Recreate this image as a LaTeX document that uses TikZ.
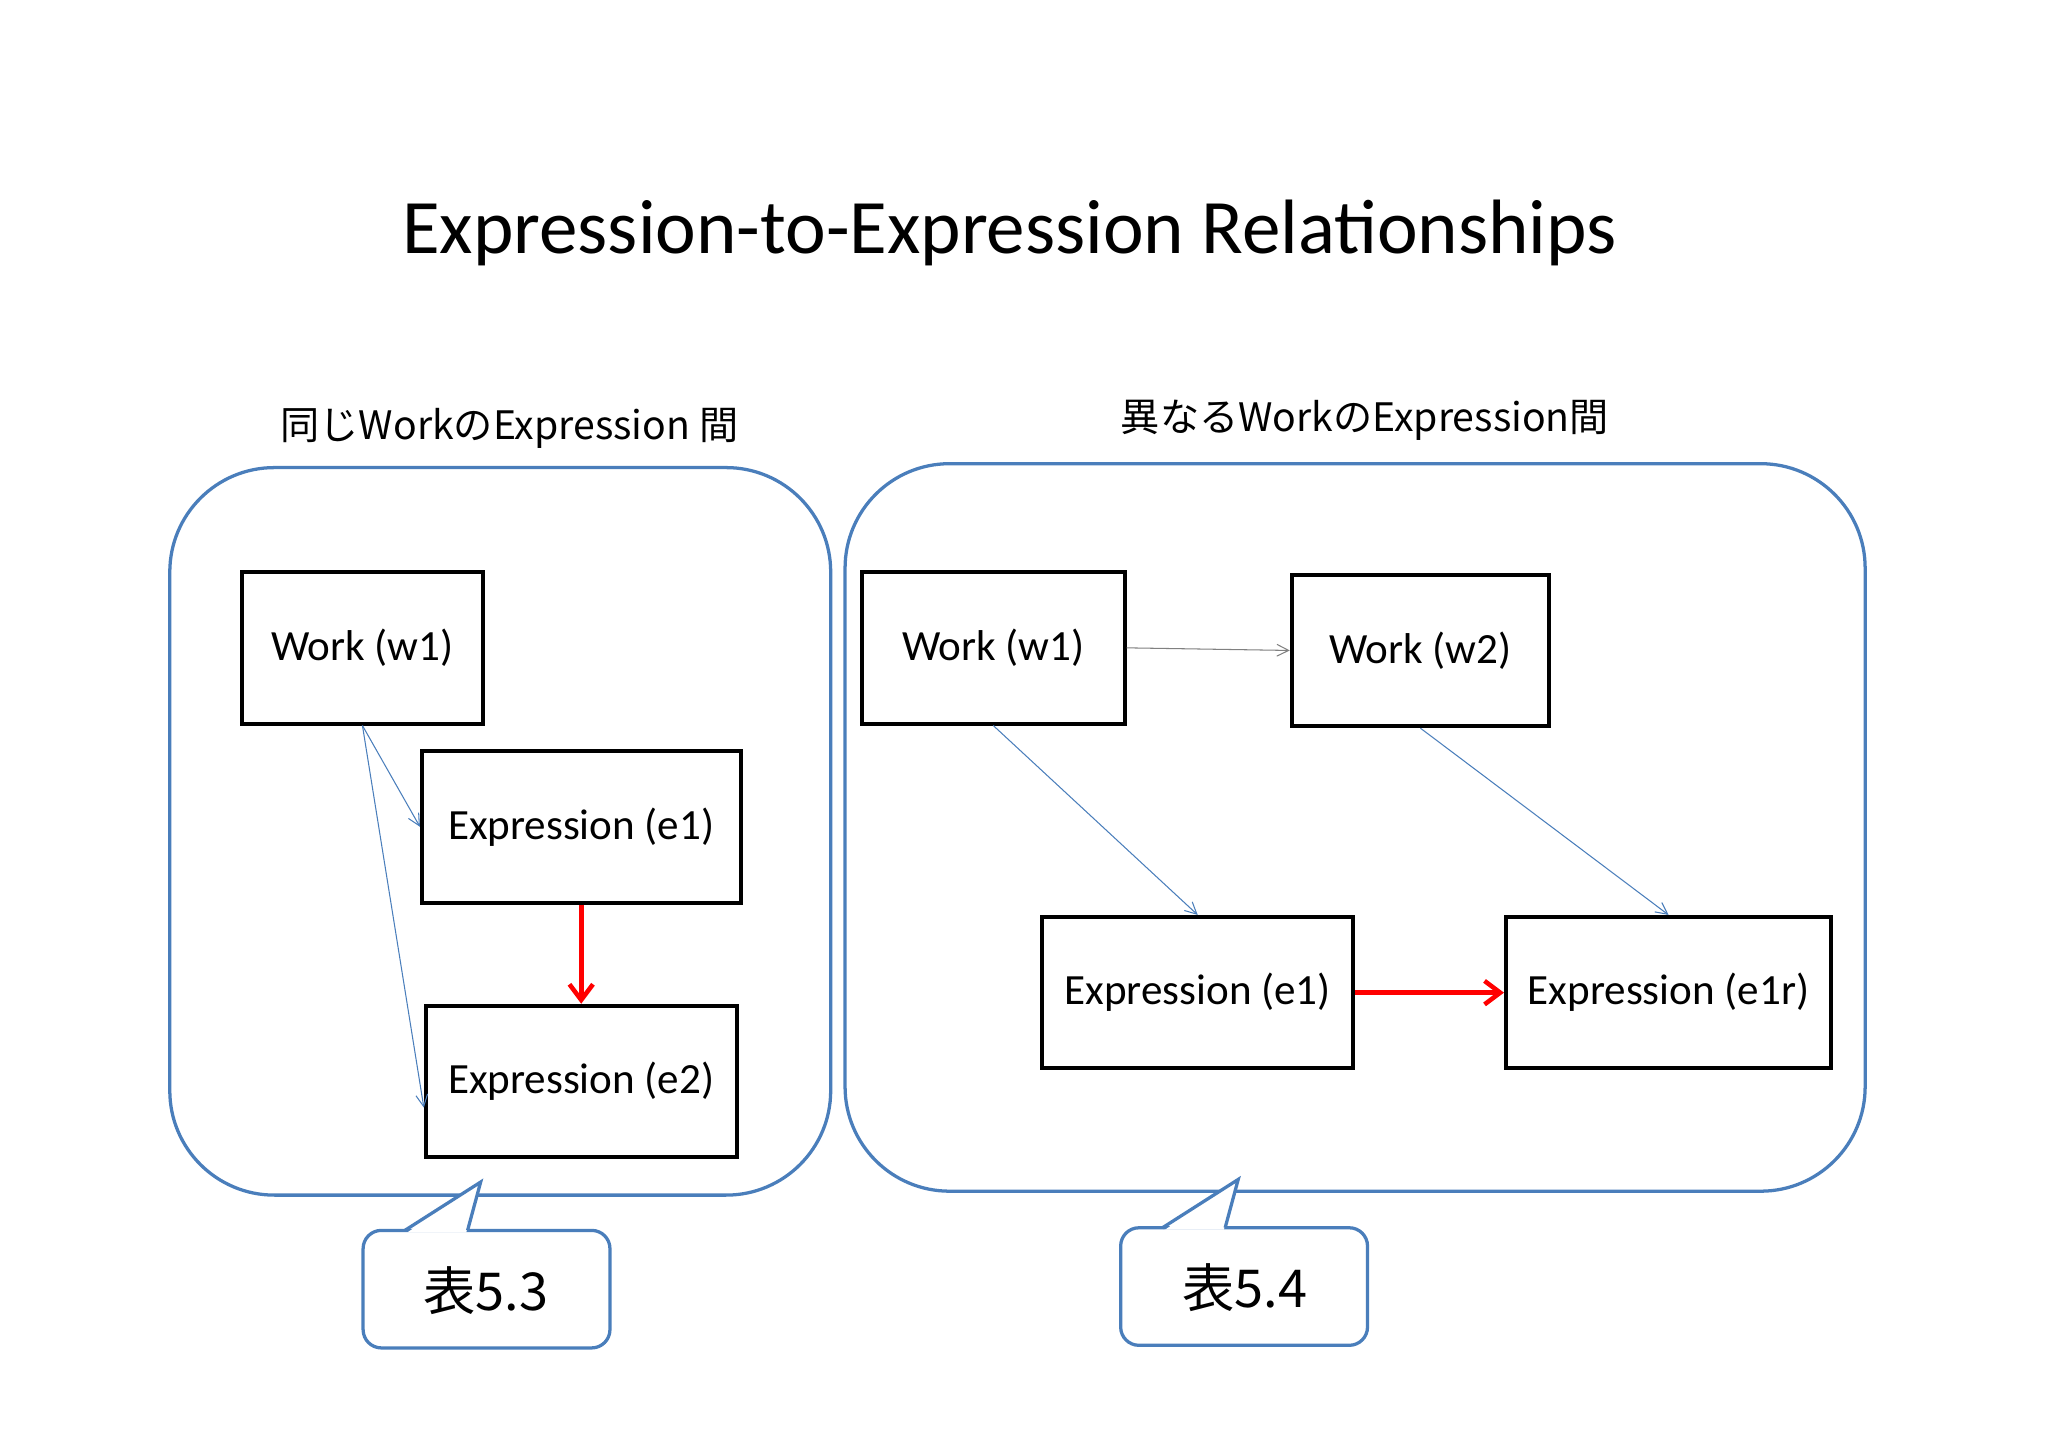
\documentclass[tikz,border=0pt]{standalone}
\usepackage{fontspec}
\setmainfont{Carlito}
\newfontfamily\cjk{Noto Sans CJK JP}
\usetikzlibrary{arrows.meta}
\definecolor{bblue}{RGB}{74,126,187}
\begin{document}
\begin{tikzpicture}[x=1pt,y=-1pt,
  box/.style={draw,line width=3pt,inner sep=0,font=\fontsize{33}{35}\selectfont},
  grp/.style={draw=bblue,line width=2.5pt,rounded corners=80pt},
  call/.style={draw=bblue,line width=2.5pt,rounded corners=14pt,fill=white},
  thin/.style={draw=bblue,line width=0.8pt,-{Straight Barb[length=9pt,width=9pt]}},
  red/.style={draw=red,line width=3.5pt,-{Straight Barb[length=12pt,width=18pt]}}]
\useasboundingbox (0,0) rectangle (1568,1108);
\node[font=\fontsize{59}{62}\selectfont] (t) at (773,178) {Expression-to-Expression Relationships};
% groups
\draw[grp] (130,358) rectangle (636,915);
\draw[grp] (647,355) rectangle (1428,912);
\node[font=\fontsize{30}{32}\selectfont\cjk] (lg1) at (390,328) {同じWorkのExpression 間};
\node[font=\fontsize{30}{32}\selectfont\cjk] (lg2) at (1045,322) {異なるWorkのExpression間};
% callouts
\draw[call] (278,942) rectangle (467,1032);
\fill[white] (312,943.5) -- (368,905) -- (357,943.5) -- cycle;
\draw[bblue,line width=2.5pt,line join=miter] (310,942) -- (368,905) -- (358,942);
\node[font=\fontsize{40}{42}\selectfont\cjk] (c1) at (372,988) {表5.3};
\draw[call] (858,940) rectangle (1047,1030);
\fill[white] (892,941.5) -- (948,903) -- (937,941.5) -- cycle;
\draw[bblue,line width=2.5pt,line join=miter] (890,940) -- (948,903) -- (938,940);
\node[font=\fontsize{40}{42}\selectfont\cjk] (c2) at (953,986) {表5.4};
% left nodes
\node[box,minimum width=185pt,minimum height=116pt] (lw1) at (277.5,496) {Work (w1)};
\node[box,minimum width=244pt,minimum height=116pt] (le1) at (445,633) {Expression (e1)};
\node[box,minimum width=238pt,minimum height=116pt] (le2) at (445,828) {Expression (e2)};
\draw[thin] (lw1.south) -- (le1.west);
\draw[thin] (lw1.south) -- ([yshift=-20pt]le2.west);
\draw[red] (le1.south) -- (le2.north);
% right nodes
\node[box,minimum width=201pt,minimum height=116pt] (rw1) at (760.5,496) {Work (w1)};
\node[box,minimum width=197pt,minimum height=116pt] (rw2) at (1087.5,498) {Work (w2)};
\node[box,minimum width=238pt,minimum height=116pt] (re1) at (917,760) {Expression (e1)};
\node[box,minimum width=249pt,minimum height=116pt] (re2) at (1277.5,760) {Expression (e1r)};
\draw[draw=gray,line width=0.8pt,-{Straight Barb[length=9pt,width=9pt]}] (rw1.east) -- (rw2.west);
\draw[thin] (rw1.south) -- (re1.north);
\draw[thin] (rw2.south) -- (re2.north);
\draw[red] (re1.east) -- (re2.west);
\end{tikzpicture}
\end{document}
